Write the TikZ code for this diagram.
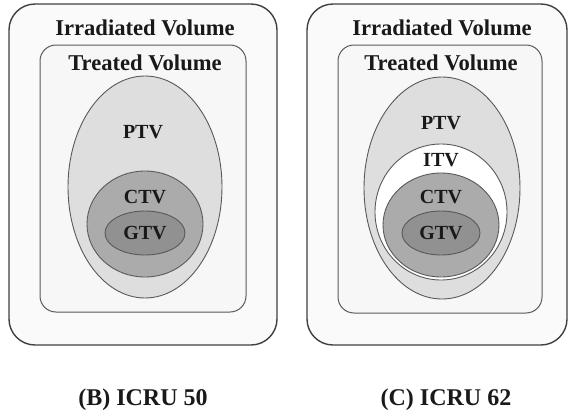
\documentclass[tikz,border=0pt]{standalone}
\usepackage{fontspec}
\setmainfont{Liberation Serif}
\begin{document}
\begin{tikzpicture}[x=1pt,y=-1pt,
  outerbox/.style={draw=black!75,line width=1.4pt,fill=black!2,rounded corners=26pt},
  innerbox/.style={draw=black!65,line width=1pt,fill=black!3,rounded corners=16pt},
  vol/.style={draw=black!65,line width=0.9pt},
  ptvfill/.style={vol,fill=black!13},
  itvfill/.style={vol,fill=white},
  ctvfill/.style={vol,fill=black!33},
  gtvfill/.style={vol,fill=black!43},
  bigtext/.style={font=\fontsize{22.6}{24}\selectfont\bfseries,text=black!90,inner sep=0pt},
  labtext/.style={font=\fontsize{20}{22}\selectfont\bfseries,text=black!90,inner sep=0pt},
  captext/.style={font=\fontsize{24}{26}\selectfont\bfseries,text=black!90,inner sep=0pt}]
\useasboundingbox[fill=white] (0,0) rectangle (568,418);

% ---- Left panel (ICRU 50)
\draw[outerbox] (9,4) rectangle (277,345);
\draw[innerbox] (40,45) rectangle (246,312);
\node[bigtext] (irrL) at (145,28) {Irradiated Volume};
\node[bigtext] (trL) at (145,63) {Treated Volume};
\draw[ptvfill] (145,187) ellipse (77 and 111);
\draw[ctvfill] (145,224) ellipse (58 and 53);
\draw[gtvfill] (145,233) ellipse (40 and 22);
\node[labtext] (ptvL) at (143,132) {PTV};
\node[labtext] (ctvL) at (145,197) {CTV};
\node[labtext] (gtvL) at (145,233) {GTV};

% ---- Right panel (ICRU 62)
\draw[outerbox] (307,4) rectangle (567,345);
\draw[innerbox] (338,45) rectangle (542,313);
\node[bigtext] (irrR) at (442,28) {Irradiated Volume};
\node[bigtext] (trR) at (441,63) {Treated Volume};
\draw[ptvfill] (442,188) ellipse (78 and 111);
\draw[itvfill] (441,212) ellipse (66 and 68);
\draw[ctvfill] (441,225) ellipse (58 and 52);
\draw[gtvfill] (441,233) ellipse (39 and 22);
\node[labtext] (ptvR) at (441,123) {PTV};
\node[labtext] (itvR) at (441,160) {ITV};
\node[labtext] (ctvR) at (441,197) {CTV};
\node[labtext] (gtvR) at (441,233) {GTV};

% ---- Captions
\node[captext] (capB) at (143,400) {(B) ICRU 50};
\node[captext] (capC) at (446,400) {(C) ICRU 62};
\end{tikzpicture}
\end{document}
